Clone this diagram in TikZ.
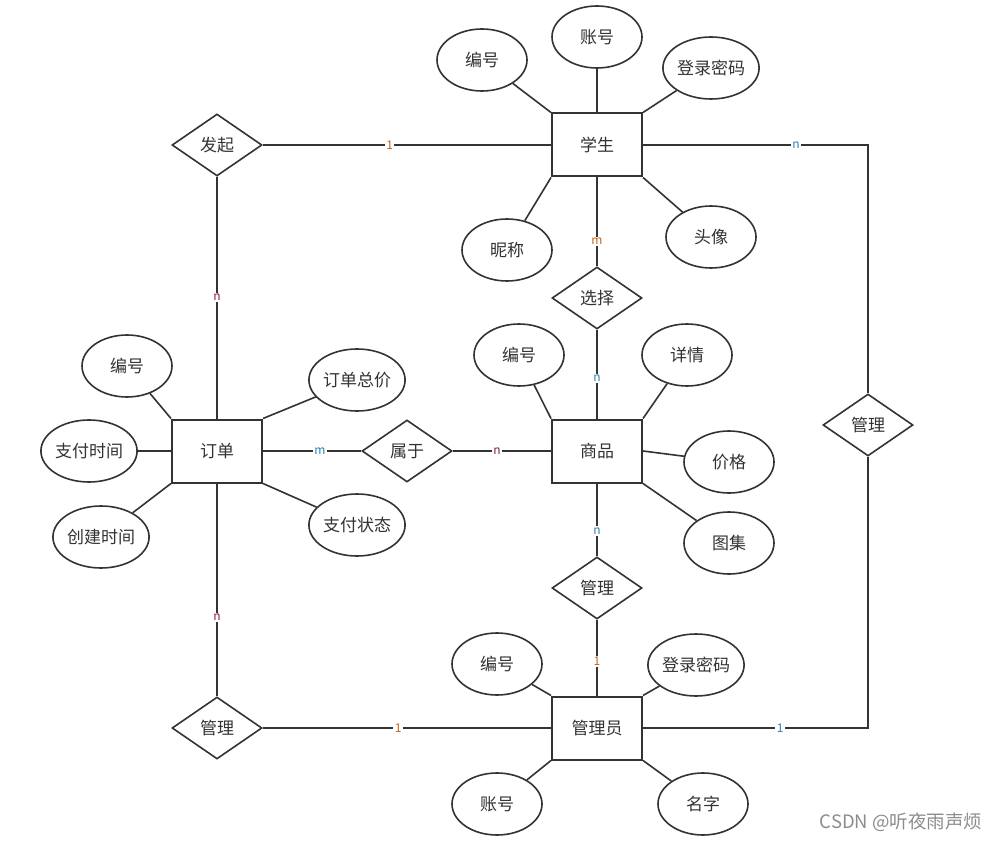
\documentclass[tikz,border=0pt]{standalone}
\usepackage{fontspec}
\setmainfont{Noto Sans CJK SC}
\usetikzlibrary{shapes.geometric}
\definecolor{ln}{HTML}{333333}
\definecolor{lo}{HTML}{C0651A}
\definecolor{lb}{HTML}{2F7FB0}
\definecolor{lr}{HTML}{8A2040}
\begin{document}
\begin{tikzpicture}[x=1pt,y=-1pt,
  every node/.style={font=\fontsize{17}{20}\selectfont, text=ln},
  ent/.style={draw=ln, line width=2pt, minimum width=90pt, minimum height=63pt, fill=white},
  rel/.style={draw=ln, line width=1.6pt, diamond, aspect=1.45, minimum width=90pt, minimum height=62pt, inner sep=0pt, fill=white},
  att/.style={draw=ln, line width=1.6pt, ellipse, minimum width=90pt, minimum height=62pt, inner sep=0pt, fill=white},
  con/.style={draw=ln, line width=1.6pt},
  card/.style={font=\fontsize{12}{14}\selectfont, fill=white, inner sep=1.5pt}
]
\useasboundingbox (0,0) rectangle (1001,842);
% entities
\node[ent] (stu) at (597,145) {学生};
\node[ent] (ord) at (217,451) {订单};
\node[ent] (goods) at (597,451) {商品};
\node[ent] (adm) at (597,728) {管理员};
% relationships
\node[rel] (faqi) at (217,145) {发起};
\node[rel] (xuanze) at (597,298) {选择};
\node[rel] (shuyu) at (407,451) {属于};
\node[rel] (glR) at (868,425) {管理};
\node[rel] (glM) at (597,588) {管理};
\node[rel] (glB) at (217,728) {管理};
% attributes
\node[att] (s1) at (482,60) {编号};
\node[att] (s2) at (597,37) {账号};
\node[att] (s3) at (711,68) {登录密码};
\node[att] (s4) at (507,250) {昵称};
\node[att] (s5) at (711,237) {头像};
\node[att] (g1) at (519,355) {编号};
\node[att] (g2) at (687,355) {详情};
\node[att] (g3) at (729,462) {价格};
\node[att] (g4) at (729,543) {图集};
\node[att] (o1) at (127,366) {编号};
\node[att] (o2) at (357,380) {订单总价};
\node[att] (o3) at (89,451) {支付时间};
\node[att] (o4) at (101,537) {创建时间};
\node[att] (o5) at (357,525) {支付状态};
\node[att] (a1) at (497,664) {编号};
\node[att] (a2) at (696,665) {登录密码};
\node[att] (a3) at (497,804) {账号};
\node[att] (a4) at (703,804) {名字};
% attribute links
\draw[con] (s1) -- (stu.north west);
\draw[con] (s2) -- (stu.north);
\draw[con] (s3) -- (stu.north east);
\draw[con] (s4) -- (stu.south west);
\draw[con] (s5) -- (stu.south east);
\draw[con] (g1) -- (goods.north west);
\draw[con] (g2) -- (goods.north east);
\draw[con] (g3) -- (goods.east);
\draw[con] (g4) -- (goods.south east);
\draw[con] (o1) -- (ord.north west);
\draw[con] (o2) -- (ord.north east);
\draw[con] (o3) -- (ord.west);
\draw[con] (o4) -- (ord.south west);
\draw[con] (o5) -- (ord.south east);
\draw[con] (a1) -- (adm.north west);
\draw[con] (a2) -- (adm.north east);
\draw[con] (a3) -- (adm.south west);
\draw[con] (a4) -- (adm.south east);
% relationship links
\coordinate (cTR) at (868,145);
\coordinate (cBR) at (868,728);
\draw[con] (faqi.east) -- node[card,pos=0.44,text=lo]{1} (stu.west);
\draw[con] (faqi.south) -- node[card,pos=0.5,text=lr]{n} (ord.north);
\draw[con] (stu.south) -- node[card,pos=0.72,text=lo]{m} (xuanze.north);
\draw[con] (xuanze.south) -- node[card,pos=0.55,text=lb]{n} (goods.north);
\draw[con] (stu.east) -- node[card,pos=0.68,text=lb]{n} (cTR) -- (glR.north);
\draw[con] (ord.east) -- node[card,pos=0.58,text=lb]{m} (shuyu.west);
\draw[con] (shuyu.east) -- node[card,pos=0.45,text=lr]{n} (goods.west);
\draw[con] (goods.south) -- node[card,pos=0.65,text=lb]{n} (glM.north);
\draw[con] (glM.south) -- node[card,pos=0.55,text=lo]{1} (adm.north);
\draw[con] (ord.south) -- node[card,pos=0.63,text=lr]{n} (glB.north);
\draw[con] (glB.east) -- node[card,pos=0.47,text=lo]{1} (adm.west);
\draw[con] (adm.east) -- node[card,pos=0.61,text=lb]{1} (cBR) -- (glR.south);
% watermark
\node[text=black!45, anchor=east, font=\fontsize{18.5}{21}\selectfont] (wm) at (986,822) {CSDN @听夜雨声烦};
\end{tikzpicture}
\end{document}
